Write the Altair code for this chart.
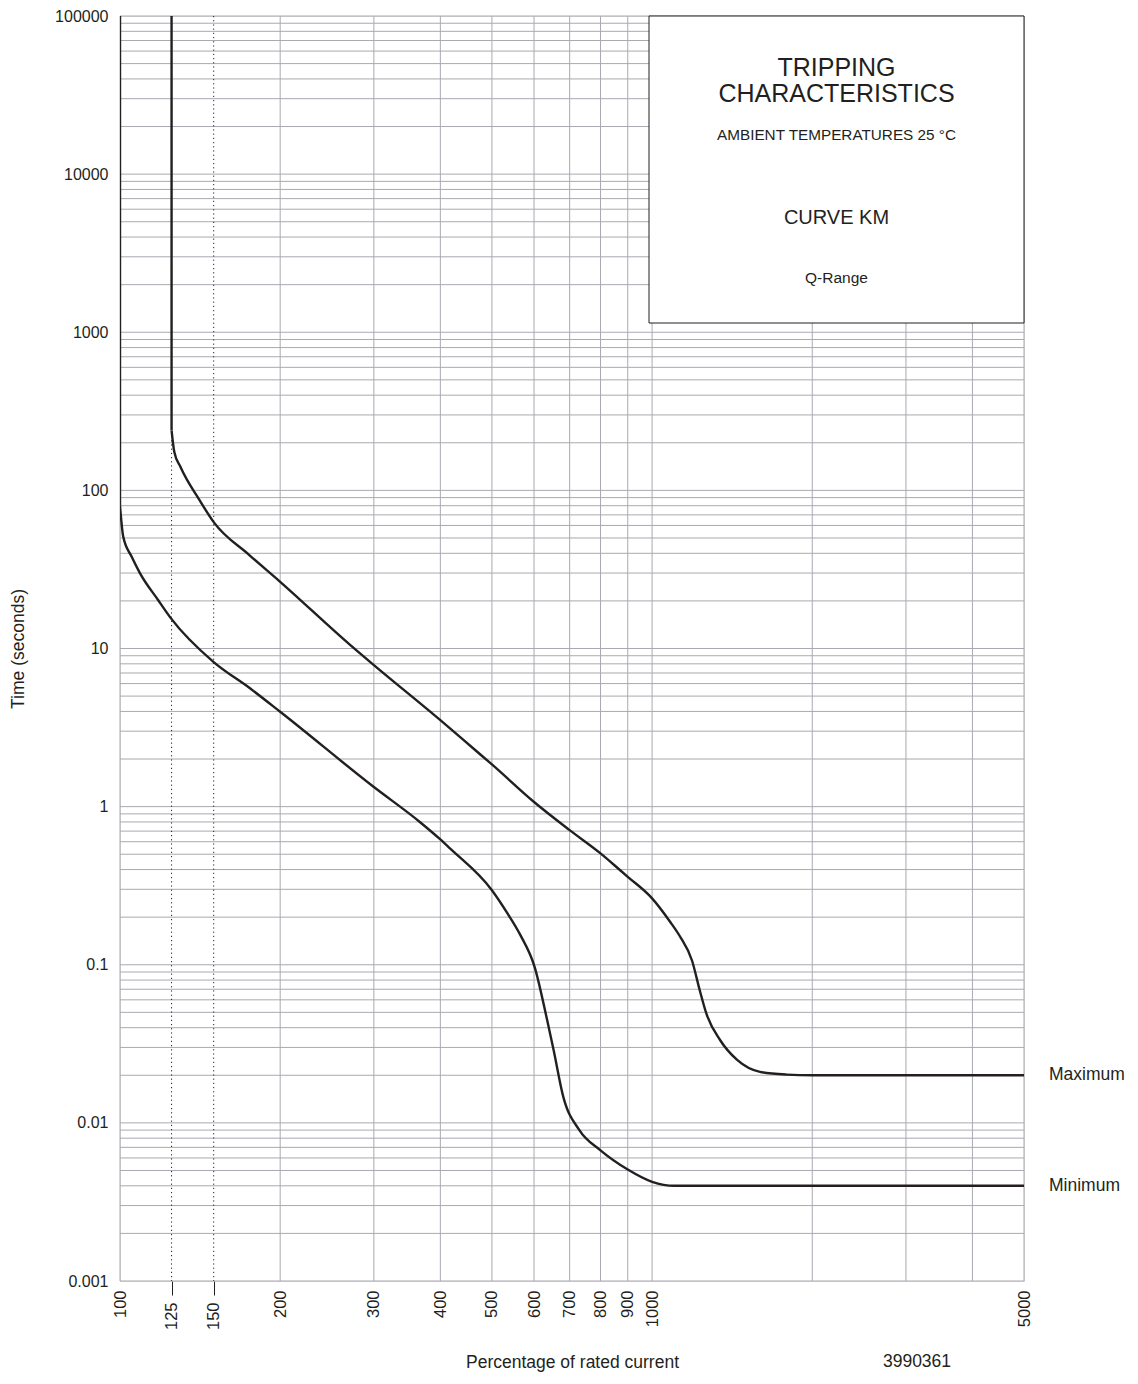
import altair as alt
import pandas as pd

# ---- data ----
# vertical (thermal-free) segments at the top of each curve
max_vert_x = [125, 125]
max_vert_t = [100000, 240]
min_vert_x = [100, 100]
min_vert_t = [100000, 80]

# curved parts of the two tripping curves
max_x = [125, 126.5, 130, 141, 150, 175, 200, 271, 300, 400, 465, 500,
         600, 700, 800, 871, 900, 1000, 1081, 1127, 1189, 1229, 1265, 1343, 1445,
         1595, 1790, 2000, 5000]
max_t = [240, 175, 140, 87, 63, 39, 26.4, 10.5, 7.85, 3.52, 2.28, 1.85,
         1.07, 0.71, 0.506, 0.396, 0.36, 0.263, 0.187, 0.152, 0.106, 0.069, 0.049, 0.0333, 0.025,
         0.021, 0.0202, 0.02, 0.02]

min_x = [100, 101.4, 105.2, 109, 118, 124.7, 150, 175.5, 200, 300, 366, 400,
         417, 500, 532.6, 565, 602, 635, 653, 681, 730, 800, 900, 1000, 1100, 5000]
min_t = [80, 51, 38, 30, 20.2, 15.5, 8.2, 5.6, 3.98, 1.33, 0.80, 0.62,
         0.544, 0.296, 0.216, 0.155, 0.096, 0.0447, 0.0289, 0.0146, 0.009, 0.0067, 0.00507, 0.00424, 0.004, 0.004]

x_ticks = [100, 125, 150, 200, 300, 400, 500, 600, 700, 800, 900, 1000, 5000]
x_grid = [100, 200, 300, 400, 500, 600, 700, 800, 900, 1000, 2000, 3000, 4000, 5000]
dotted_x = [125, 150]
y_ticks = [0.001, 0.01, 0.1, 1, 10, 100, 1000, 10000, 100000]
grid_mult = [1, 2, 3, 4, 5, 6, 7, 8, 9]
y_grid = [m * d for d in y_ticks[:-1] for m in grid_mult] + [100000]

end_labels = ["Maximum", "Minimum"]
end_values = [0.02, 0.004]

box_lines = ["TRIPPING", "CHARACTERISTICS", "AMBIENT TEMPERATURES 25 \u00b0C", "CURVE KM", "Q-Range"]
x_title = "Percentage of rated current"
y_title = "Time (seconds)"
code_label = "3990361"

# ---- frames ----
curves = pd.concat([
    pd.DataFrame({"x": max_x, "t": max_t, "curve": "max", "order": range(len(max_x))}),
    pd.DataFrame({"x": min_x, "t": min_t, "curve": "min", "order": range(len(min_x))}),
])
verts = pd.concat([
    pd.DataFrame({"x": max_vert_x, "t": max_vert_t, "curve": "max", "order": [0, 1]}),
    pd.DataFrame({"x": min_vert_x, "t": min_vert_t, "curve": "min", "order": [0, 1]}),
])
xgrid_df = pd.DataFrame({"x": x_grid})
ygrid_df = pd.DataFrame({"t": y_grid})
dotted_df = pd.DataFrame({"x": dotted_x})
ends_df = pd.DataFrame({"label": end_labels, "t": end_values})

W, H = 904, 1265
FONT = "Liberation Sans"
INK = "#231f20"
GRID = "#a9a9b1"

xscale = alt.Scale(type="log", domain=[100, 5000], nice=False)
yscale = alt.Scale(type="log", domain=[0.001, 100000], nice=False)

cond_test = "datum.value == 125 || datum.value == 150"
x_axis = alt.Axis(
    values=x_ticks, format="d", labelAngle=270, labelFontSize=16.5, labelFont=FONT,
    labelColor=INK, labelOverlap=False, labelFlush=False, labelBound=False,
    labelPadding={"condition": {"test": cond_test, "value": 7}, "value": -5},
    ticks=True, tickSize=14, tickColor=INK, tickWidth=1,
    tickOpacity={"condition": {"test": cond_test, "value": 1}, "value": 0},
    domain=False, grid=False,
    title=x_title, titleFont=FONT, titleFontSize=17.5, titleFontWeight="normal",
    titleColor=INK, titleY=81, titleBaseline="middle",
)
y_axis = alt.Axis(
    values=y_ticks, labelExpr="format(datum.value, '~g')", labelFontSize=16,
    labelFont=FONT, labelColor=INK, labelPadding=12, labelOverlap=False,
    labelFlush=False, labelBound=False, ticks=False, domain=False, grid=False,
    title=y_title, titleFont=FONT, titleFontSize=17.5, titleFontWeight="normal",
    titleColor=INK, titleX=-102, titleY=H / 2, titleBaseline="middle", titleAlign="center",
)

vgrid = alt.Chart(xgrid_df).mark_rule(color=GRID, strokeWidth=1).encode(
    x=alt.X("x:Q", scale=xscale, axis=x_axis))
hgrid = alt.Chart(ygrid_df).mark_rule(color=GRID, strokeWidth=1).encode(
    y=alt.Y("t:Q", scale=yscale, axis=y_axis))
dotted = alt.Chart(dotted_df).mark_rule(color=INK, strokeWidth=1, strokeDash=[1.2, 3]).encode(
    x=alt.X("x:Q", scale=xscale, axis=x_axis))

box = alt.Chart(pd.DataFrame({"a": [0]})).mark_rect(
    fill="white", stroke=INK, strokeWidth=1).encode(
    x=alt.value(529), x2=alt.value(W), y=alt.value(0), y2=alt.value(307))

cx = 716.5
def box_text(txt, y, size):
    return alt.Chart(pd.DataFrame({"a": [0]})).mark_text(
        text=txt, font=FONT, fontSize=size, color=INK, align="center", baseline="middle"
    ).encode(x=alt.value(cx), y=alt.value(y))

t1 = box_text(box_lines[0], 52, 25)
t2 = box_text(box_lines[1], 78, 25)
t3 = box_text(box_lines[2], 119, 15.3)
t4 = box_text(box_lines[3], 201.5, 20)
t5 = box_text(box_lines[4], 262, 15.5)

vlines = alt.Chart(verts).mark_line(
    color=INK, strokeWidth=2.4, interpolate="linear", clip=True).encode(
    x=alt.X("x:Q", scale=xscale, axis=x_axis),
    y=alt.Y("t:Q", scale=yscale, axis=y_axis),
    detail="curve:N",
    order="order:Q",
)
lines = alt.Chart(curves).mark_line(
    color=INK, strokeWidth=2.4, interpolate="monotone", clip=True).encode(
    x=alt.X("x:Q", scale=xscale, axis=x_axis),
    y=alt.Y("t:Q", scale=yscale, axis=y_axis),
    detail="curve:N",
    order="order:Q",
)

ends = alt.Chart(ends_df).mark_text(
    font=FONT, fontSize=17.5, color=INK, align="left", baseline="middle").encode(
    x=alt.value(W + 25),
    y=alt.Y("t:Q", scale=yscale, axis=y_axis),
    text="label:N",
)

code = alt.Chart(pd.DataFrame({"a": [0]})).mark_text(
    text=code_label, font=FONT, fontSize=17.5, color=INK, align="center", baseline="middle"
).encode(x=alt.value(797), y=alt.value(H + 81))

chart = alt.layer(vgrid, hgrid, dotted, box, t1, t2, t3, t4, t5, vlines, lines, ends, code).properties(
    width=W, height=H,
    autosize=alt.AutoSizeParams(type="none"),
    padding={"left": 112, "top": 8, "right": 104, "bottom": 91},
).configure_view(stroke=INK, strokeWidth=1).configure(background="white")

chart.save("out.html", embed_options={"renderer": "svg", "actions": False})
